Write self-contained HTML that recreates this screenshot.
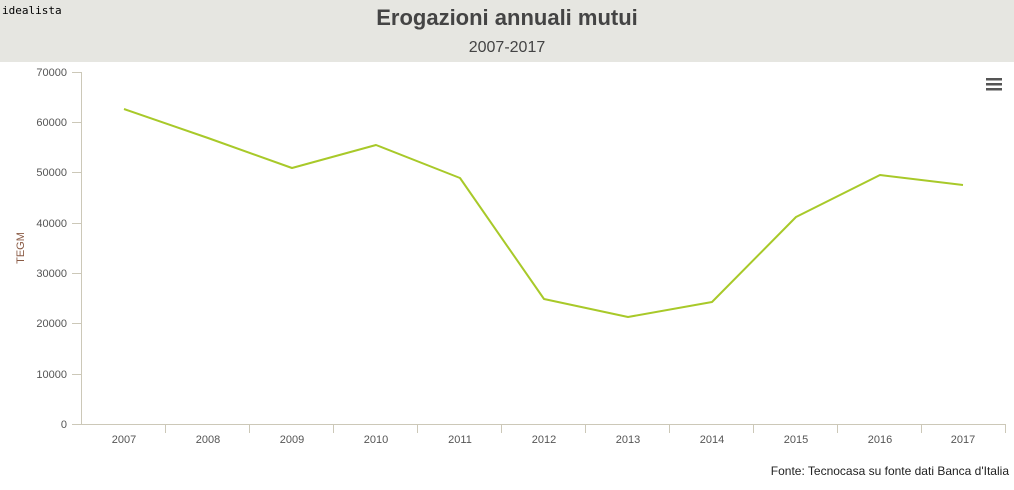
<!DOCTYPE html>
<html><head><meta charset="utf-8"><style>
body{margin:0;width:1014px;height:485px;background:#fff;overflow:hidden;font-family:"Liberation Sans",sans-serif}
</style></head><body>
<svg width="1014" height="485" xmlns="http://www.w3.org/2000/svg" font-family="Liberation Sans, sans-serif">
<rect x="0" y="0" width="1014" height="62" fill="#e6e6e1"/>
<text x="2" y="14" font-size="11" fill="#000" font-family="DejaVu Sans Mono, monospace">idealista</text>
<text x="507" y="25" text-anchor="middle" font-size="22" font-weight="bold" fill="#444">Erogazioni annuali mutui</text>
<text x="507" y="52" text-anchor="middle" font-size="16" fill="#444">2007-2017</text>
<g stroke="#ccc8b8" stroke-width="1" fill="none">
<line x1="81.5" y1="72" x2="81.5" y2="424"/>
<line x1="72" y1="424.5" x2="1005" y2="424.5"/>
<line x1="72" y1="72.5" x2="81" y2="72.5"/><line x1="72" y1="122.5" x2="81" y2="122.5"/><line x1="72" y1="172.5" x2="81" y2="172.5"/><line x1="72" y1="223.5" x2="81" y2="223.5"/><line x1="72" y1="273.5" x2="81" y2="273.5"/><line x1="72" y1="323.5" x2="81" y2="323.5"/><line x1="72" y1="374.5" x2="81" y2="374.5"/>
<line x1="165.5" y1="424" x2="165.5" y2="433"/><line x1="249.5" y1="424" x2="249.5" y2="433"/><line x1="333.5" y1="424" x2="333.5" y2="433"/><line x1="417.5" y1="424" x2="417.5" y2="433"/><line x1="501.5" y1="424" x2="501.5" y2="433"/><line x1="585.5" y1="424" x2="585.5" y2="433"/><line x1="669.5" y1="424" x2="669.5" y2="433"/><line x1="753.5" y1="424" x2="753.5" y2="433"/><line x1="837.5" y1="424" x2="837.5" y2="433"/><line x1="921.5" y1="424" x2="921.5" y2="433"/><line x1="1005.5" y1="424" x2="1005.5" y2="433"/>
</g>
<g font-size="11" fill="#555" text-anchor="end">
<text x="67" y="76">70000</text><text x="67" y="126">60000</text><text x="67" y="176">50000</text><text x="67" y="227">40000</text><text x="67" y="277">30000</text><text x="67" y="327">20000</text><text x="67" y="378">10000</text><text x="67" y="428">0</text>
</g>
<g font-size="11" fill="#555" text-anchor="middle">
<text x="124" y="443">2007</text><text x="208" y="443">2008</text><text x="292" y="443">2009</text><text x="376" y="443">2010</text><text x="460" y="443">2011</text><text x="544" y="443">2012</text><text x="628" y="443">2013</text><text x="712" y="443">2014</text><text x="796" y="443">2015</text><text x="880" y="443">2016</text><text x="963" y="443">2017</text>
</g>
<text transform="translate(24,248) rotate(-90)" text-anchor="middle" font-size="11" fill="#8a5a44">TEGM</text>
<polyline fill="none" stroke="#a8c929" stroke-width="2" stroke-linejoin="round" points="124,109 208,138 292,168 376,145 460,178 544,299 628,317 712,302 796,217 880,175 963,185"/>
<g fill="#555"><rect x="986" y="78" width="16" height="2.5"/><rect x="986" y="83" width="16" height="2.5"/><rect x="986" y="88" width="16" height="2.5"/></g>
<text x="1009" y="475" text-anchor="end" font-size="12" fill="#222">Fonte: Tecnocasa su fonte dati Banca d'Italia</text>
</svg>
</body></html>
